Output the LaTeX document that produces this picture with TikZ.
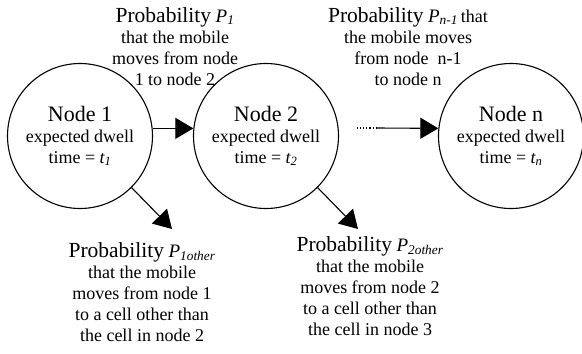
\documentclass[tikz,border=0pt]{standalone}
\usepackage{fontspec}
\setmainfont{Liberation Serif}
\usetikzlibrary{arrows.meta}
\newcommand{\probhead}[1]{{\fontsize{21.5}{21}\selectfont Probability}~{\fontsize{19}{21}\selectfont\itshape #1}}
\newcommand{\nodehead}[1]{{\fontsize{22}{21}\selectfont #1}}
\begin{document}
\begin{tikzpicture}[x=1pt,y=-1pt,
  state/.style={circle,draw,line width=1.1pt,minimum size=145pt,inner sep=0pt,
    align=center,font=\fontsize{18}{21}\selectfont},
  lbl/.style={align=center,font=\fontsize{18}{21}\selectfont,inner sep=0pt,anchor=base},
  arr/.style={line width=1.1pt,-{Triangle[length=18pt,width=21pt]}},
]
\useasboundingbox (0,0) rectangle (582,354);

\node[state] (n1) at (80,136) {\nodehead{Node 1}\\expected dwell\\time = \textit{t\textsubscript{1}}};
\node[state] (n2) at (266,136) {\nodehead{Node 2}\\expected dwell\\time = \textit{t\textsubscript{2}}};
\node[state] (nn) at (511,136) {\nodehead{Node n}\\expected dwell\\time = \textit{t\textsubscript{n}}};

\node[lbl] (l1) at (175,85) {\probhead{P\textsubscript{1}}\\that the mobile\\moves from node\\1 to node 2};
\node[lbl] (ln) at (408,85) {\probhead{P\textsubscript{n-1}}\,that\\the mobile moves\\from node~~n-1\\to node n};
\node[lbl] (lo1) at (142,341) {\probhead{P\textsubscript{1other}}\\that the mobile\\moves from node 1\\to a cell other than\\the cell in node 2};
\node[lbl] (lo2) at (370,335) {\probhead{P\textsubscript{2other}}\\that the mobile\\moves from node 2\\to a cell other than\\the cell in node 3};

\coordinate (d1) at (357,128);
\coordinate (d2) at (377,128);
\coordinate (t1) at (172,229);
\coordinate (t2) at (358,229);

\draw[arr] (n1.6) -- (n2.174);
\draw[line width=1.1pt,dotted] (d1) -- (d2);
\draw[arr] (d2) -- (nn.174);
\draw[arr] (n1.-45) -- (t1);
\draw[arr] (n2.-45) -- (t2);
\end{tikzpicture}
\end{document}
